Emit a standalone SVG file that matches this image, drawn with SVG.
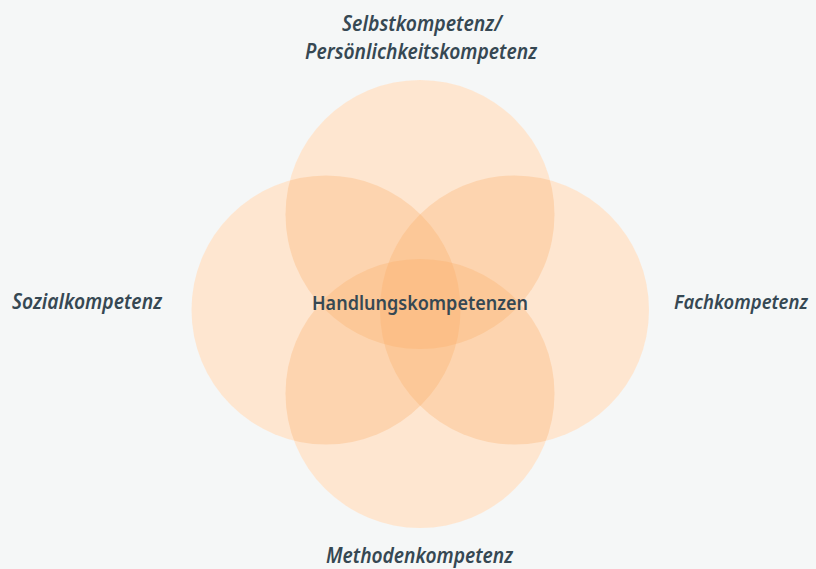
<svg xmlns="http://www.w3.org/2000/svg" width="816" height="569" viewBox="0 0 816 569">
<style>
.under{fill:#ffffff}
.c{fill:#fcac62;fill-opacity:0.3}
.lbl{font-family:"Noto Sans","Open Sans",sans-serif;font-style:italic;font-weight:600;font-size:21px;fill:#364853}
.ctr{font-family:"Noto Sans","Open Sans",sans-serif;font-weight:600;font-size:20px;fill:#364853}
</style>
<rect width="816" height="569" fill="#f5f7f7"/>
<g id="underlay">
<circle class="under" cx="420" cy="214.5" r="134.5"/>
<circle class="under" cx="326" cy="310" r="134.5"/>
<circle class="under" cx="514.5" cy="310" r="134.5"/>
<circle class="under" cx="420" cy="393.5" r="134.5"/>
</g>
<g id="selbst">
<circle class="c" cx="420" cy="214.5" r="134.5"/>
<text class="lbl" x="422" y="31" text-anchor="middle" textLength="160" lengthAdjust="spacingAndGlyphs">Selbstkompetenz/</text>
<text class="lbl" x="421" y="59" text-anchor="middle" textLength="232" lengthAdjust="spacingAndGlyphs">Persönlichkeitskompetenz</text>
</g>
<g id="sozial">
<circle class="c" cx="326" cy="310" r="134.5"/>
<text class="lbl" x="87" y="309" text-anchor="middle" textLength="150" lengthAdjust="spacingAndGlyphs">Sozialkompetenz</text>
</g>
<g id="fach">
<circle class="c" cx="514.5" cy="310" r="134.5"/>
<text class="lbl" x="741" y="309" text-anchor="middle" style="font-size:19px" textLength="134" lengthAdjust="spacingAndGlyphs">Fachkompetenz</text>
</g>
<g id="methoden">
<circle class="c" cx="420" cy="393.5" r="134.5"/>
<text class="lbl" x="419.5" y="563" text-anchor="middle" textLength="187" lengthAdjust="spacingAndGlyphs">Methodenkompetenz</text>
</g>
<g id="handlung">
<text class="ctr" x="420" y="310" text-anchor="middle" textLength="216" lengthAdjust="spacingAndGlyphs">Handlungskompetenzen</text>
</g>
<g id="connectors"></g>
</svg>
